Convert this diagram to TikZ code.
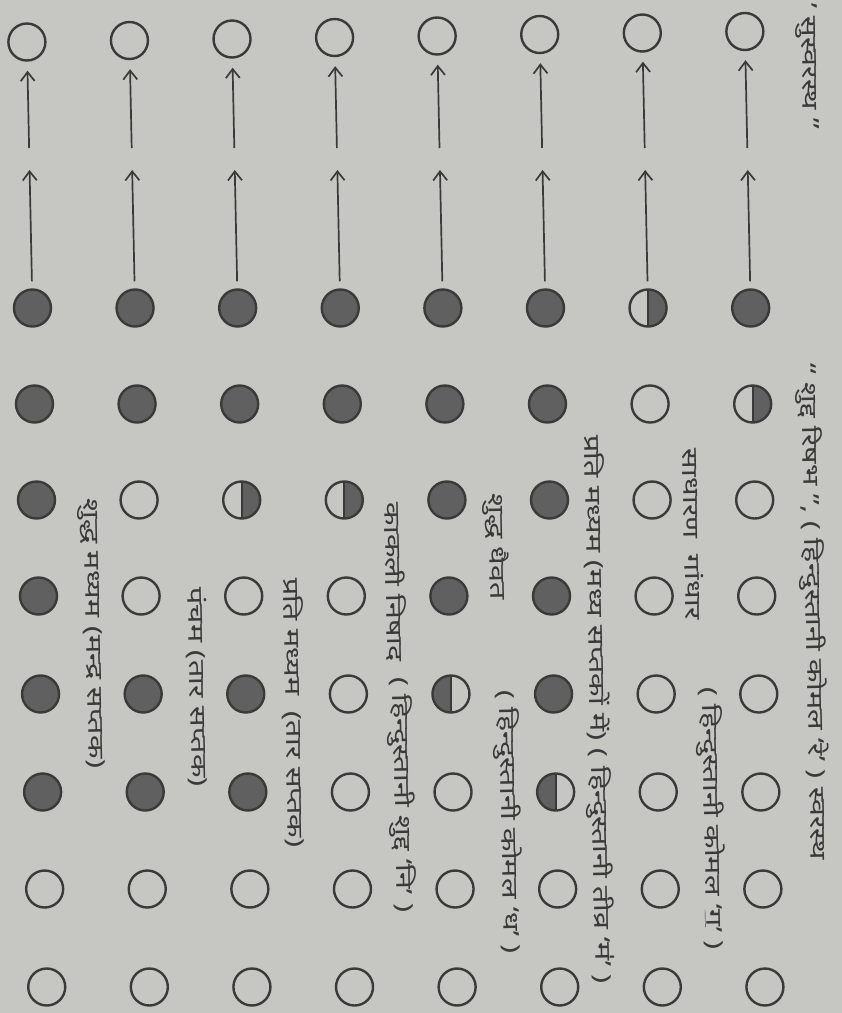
\documentclass[tikz,border=0pt]{standalone}
\usepackage{fontspec}
\newfontfamily\deva[Script=Devanagari,FakeStretch=1.4]{Noto Sans}
\usepackage{tikz}
\usetikzlibrary{arrows.meta}
\definecolor{paper}{RGB}{198,198,195}
\definecolor{ink}{RGB}{58,58,58}
\definecolor{dot}{RGB}{96,96,96}
\tikzset{
 swar/.style={circle,draw=ink,line width=2.4pt,minimum size=37pt,inner sep=0pt},
 so/.style={swar},
 sf/.style={swar,fill=dot},
 sr/.style={swar,path picture={
  \fill[dot] (path picture bounding box.north) rectangle (path picture bounding box.south east);
  \draw[ink,line width=2pt] (path picture bounding box.north) -- (path picture bounding box.south);}},
 sl/.style={swar,path picture={
  \fill[dot] (path picture bounding box.north west) rectangle (path picture bounding box.south);
  \draw[ink,line width=2pt] (path picture bounding box.north) -- (path picture bounding box.south);}},
 arr/.style={draw=ink,line width=1.7pt,-{Straight Barb[length=9pt,width=14pt]}},
 lbl/.style={text=ink,rotate=-88.8,anchor=west,inner sep=0pt,font=\deva\fontsize{22}{22}\selectfont}
}
\begin{document}
\begin{tikzpicture}[x=1pt,y=-1pt]
 \fill[paper] (0,0) rectangle (842,1013);
 \useasboundingbox (0,0) rectangle (842,1013);
 \begin{scope}[xslant=-0.021]
 \foreach \pat [count=\c from 0] in {
  {so,sf,sf,sf,sf,sf,sf,so,so},
  {so,sf,sf,so,so,sf,sf,so,so},
  {so,sf,sf,sr,so,sf,sf,so,so},
  {so,sf,sf,sr,so,so,so,so,so},
  {so,sf,sf,sf,sf,sl,so,so,so},
  {so,sf,sf,sf,sf,sf,sl,so,so},
  {so,sr,so,so,so,so,so,so,so},
  {so,sf,sr,so,so,so,so,so,so}} {
  \pgfmathsetmacro\cx{26+102.6*\c}
  \foreach \s [count=\r from 0] in \pat {
   \ifnum\r=0
    \pgfmathsetmacro\ry{42-1.5*\c}
   \else
    \pgfmathsetmacro\ry{{0,308,404,500,596,694,792,889,987}[\r]}
   \fi
   \node[\s] (c\c-\r) at (\cx,\ry) {};
  }
  \coordinate (p\c) at (\cx,148);
  \coordinate (q\c) at (\cx,170);
  \draw[arr,shorten <=7pt] (c\c-1) -- (q\c);
  \draw[arr,shorten >=9pt] (p\c) -- (c\c-0);
 }
 \node[lbl] (t1) at (78,498) {शुद्ध मध्यम (मन्द्र सप्तक)};
 \node[lbl] (t2) at (183,587) {पंचम (तार सप्तक)};
 \node[lbl] (t3) at (279,578) {प्रति मध्यम\ \ (तार सप्तक)};
 \node[lbl] (t4a) at (383,502) {काकली निषाद};
 \node[lbl] (t4b) at (385,677) {( हिन्दुस्तानी शुद्द ‘नि’ )};
 \node[lbl] (t5a) at (485,493) {शुद्ध धैवत};
 \node[lbl] (t5b) at (491,690) {( हिन्दुस्तानी कोमल ‘ध’ )};
 \node[lbl] (t6) at (582,435) {प्रति मध्यम (मध्य सप्तकों में) ( हिन्दुस्तानी तीव्र ‘म॑’ )};
 \node[lbl] (t7a) at (682,448) {साधारण\ \ गांधार};
 \node[lbl] (t7b) at (694,687) {( हिन्दुस्तानी कोमल ‘\underline{ग}’ )};
 \node[lbl] (t8a) at (806,3) {’ सुस्वरस्थ ”};
 \node[lbl] (t8b) at (800,363) {“ शुद्द रिषभ ”, ( हिन्दुस्तानी कोमल ‘रे’ ) स्वरस्थ};
 \end{scope}
\end{tikzpicture}
\end{document}
